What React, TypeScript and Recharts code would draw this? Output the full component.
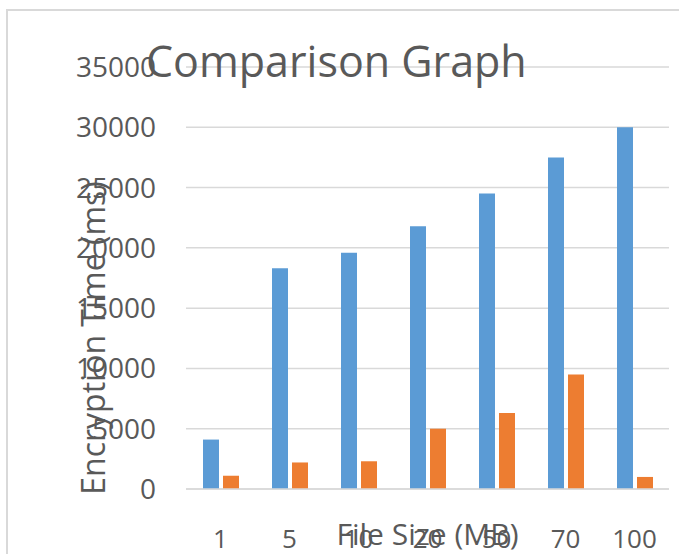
import React from 'react';
import { BarChart, Bar, XAxis, YAxis, CartesianGrid, Label } from 'recharts';

const fileSizes = ['1', '5', '10', '20', '50', '70', '100'];
const blueTimes = [4100, 18300, 19600, 21800, 24500, 27500, 30000];
const orangeTimes = [1100, 2200, 2300, 5000, 6300, 9500, 1000];
const yTicks = [0, 5000, 10000, 15000, 20000, 25000, 30000, 35000];

const chartTitle = 'Comparison Graph';
const xTitle = 'File Size (MB)';
const yTitle = 'Encryption Time (ms)';

const textColor = '#595959';
const gridColor = '#D9D9D9';

const data = fileSizes.map((size, i) => ({
  size,
  seriesA: blueTimes[i],
  seriesB: orangeTimes[i],
}));

function YTitle(props: any) {
  const vb = props.viewBox || { x: 0, y: 0, width: 0, height: 0 };
  const cx = vb.x + 105;
  const cy = vb.y + vb.height / 2 + 60;
  return (
    <text
      x={cx}
      y={cy}
      transform={`rotate(-90, ${cx}, ${cy})`}
      textAnchor="middle"
      fill={textColor}
      fontSize={32}
    >
      {yTitle}
    </text>
  );
}

function XTitle(props: any) {
  const vb = props.viewBox || { x: 0, y: 0, width: 0, height: 0 };
  return (
    <text x={vb.x + vb.width / 2} y={545} textAnchor="middle" fill={textColor} fontSize={30}>
      {xTitle}
    </text>
  );
}

export default function App() {
  return (
    <div style={{ position: 'absolute', left: 0, top: 0, width: 679, height: 554, background: '#fff', fontFamily: '"Open Sans", sans-serif', overflow: 'hidden' }}>
      <div style={{ position: 'absolute', left: 7, top: 9, width: 672, height: 2, background: gridColor }} />
      <div style={{ position: 'absolute', left: 6, top: 9, width: 2, height: 545, background: gridColor }} />
      <div style={{ position: 'absolute', left: 0, top: 0 }}>
        <BarChart
          width={679}
          height={554}
          data={data}
          margin={{ top: 67, right: 10, bottom: 0, left: 0 }}
          barSize={16}
          barGap={4}
        >
          <CartesianGrid vertical={false} stroke={gridColor} strokeWidth={1.5} />
          <XAxis
            dataKey="size"
            height={65}
            tickLine={false}
            tickSize={0}
            tickMargin={41}
            axisLine={{ stroke: gridColor, strokeWidth: 1.5 }}
            tick={{ fill: textColor, fontSize: 26 }}
            interval={0}
          >
            <Label content={<XTitle />} />
          </XAxis>
          <YAxis
            width={186}
            domain={[0, 35000]}
            ticks={yTicks}
            interval={0}
            axisLine={false}
            tickLine={false}
            tickSize={0}
            tickMargin={30}
            tick={{ fill: textColor, fontSize: 28 }}
          >
            <Label content={<YTitle />} />
          </YAxis>
          <Bar dataKey="seriesA" fill="#5B9BD5" isAnimationActive={false} />
          <Bar dataKey="seriesB" fill="#ED7D31" isAnimationActive={false} />
          <text x={146} y={77} fill={textColor} fontSize={43}>
            {chartTitle}
          </text>
        </BarChart>
      </div>
    </div>
  );
}
